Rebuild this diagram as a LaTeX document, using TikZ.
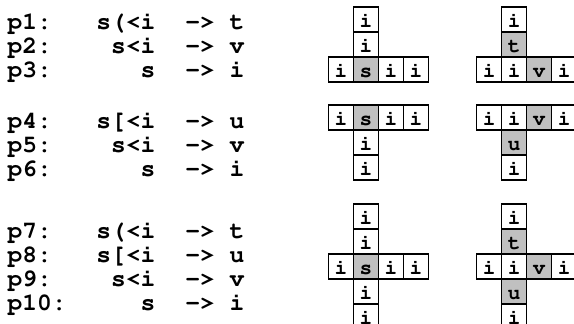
\documentclass[tikz,border=0pt]{standalone}
\usepackage[T1]{fontenc}
\definecolor{cellgray}{RGB}{192,192,192}
\begin{document}
\begin{tikzpicture}[x=1pt,y=-1pt,
  txt/.style={inner sep=0pt, font=\fontfamily{pcr}\fontseries{b}\fontsize{24.6}{24}\selectfont},
  cell/.style={draw, line width=1.2pt, minimum width=25pt, minimum height=25pt, inner sep=0pt,
    text height=16pt, text depth=0pt, font=\fontfamily{pcr}\fontseries{b}\fontsize{21}{21}\selectfont},
  hl/.style={cell, fill=cellgray}]
\useasboundingbox (0,0) rectangle (574,324);
% ---------- rules text
\def\lx{7.5}
% group 1
\node[txt, anchor=base west] (p1) at (\lx,29.5) {p1:};
\node[txt, anchor=base east] (l1) at (155.5,29.5) {s(<i};
\node[txt, anchor=base west] (a1) at (185.1,29.5) {->};
\node[txt, anchor=base west] (r1) at (229.5,29.5) {t};
\node[txt, anchor=base west] (p2) at (\lx,53.5) {p2:};
\node[txt, anchor=base east] (l2) at (155.5,53.5) {s<i};
\node[txt, anchor=base west] (a2) at (185.1,53.5) {->};
\node[txt, anchor=base west] (r2) at (229.5,53.5) {v};
\node[txt, anchor=base west] (p3) at (\lx,77.5) {p3:};
\node[txt, anchor=base east] (l3) at (155.5,77.5) {s};
\node[txt, anchor=base west] (a3) at (185.1,77.5) {->};
\node[txt, anchor=base west] (r3) at (229.5,77.5) {i};
% group 2
\node[txt, anchor=base west] (p4) at (\lx,128) {p4:};
\node[txt, anchor=base east] (l4) at (155.5,128) {s[<i};
\node[txt, anchor=base west] (a4) at (185.1,128) {->};
\node[txt, anchor=base west] (r4) at (229.5,128) {u};
\node[txt, anchor=base west] (p5) at (\lx,152) {p5:};
\node[txt, anchor=base east] (l5) at (155.5,152) {s<i};
\node[txt, anchor=base west] (a5) at (185.1,152) {->};
\node[txt, anchor=base west] (r5) at (229.5,152) {v};
\node[txt, anchor=base west] (p6) at (\lx,176) {p6:};
\node[txt, anchor=base east] (l6) at (155.5,176) {s};
\node[txt, anchor=base west] (a6) at (185.1,176) {->};
\node[txt, anchor=base west] (r6) at (229.5,176) {i};
% group 3
\node[txt, anchor=base west] (p7) at (\lx,238) {p7:};
\node[txt, anchor=base east] (l7) at (155.5,238) {s(<i};
\node[txt, anchor=base west] (a7) at (185.1,238) {->};
\node[txt, anchor=base west] (r7) at (229.5,238) {t};
\node[txt, anchor=base west] (p8) at (\lx,262) {p8:};
\node[txt, anchor=base east] (l8) at (155.5,262) {s[<i};
\node[txt, anchor=base west] (a8) at (185.1,262) {->};
\node[txt, anchor=base west] (r8) at (229.5,262) {u};
\node[txt, anchor=base west] (p9) at (\lx,286) {p9:};
\node[txt, anchor=base east] (l9) at (155.5,286) {s<i};
\node[txt, anchor=base west] (a9) at (185.1,286) {->};
\node[txt, anchor=base west] (r9) at (229.5,286) {v};
\node[txt, anchor=base west] (p10) at (\lx,310) {p10:};
\node[txt, anchor=base east] (l10) at (155.5,310) {s};
\node[txt, anchor=base west] (a10) at (185.1,310) {->};
\node[txt, anchor=base west] (r10) at (229.5,310) {i};
% ---------- grids
% left column centres: 341+25c ; right: 489.2+25c
% group 1 rows: 19.5+25r
\node[cell] (A01) at (366,19.5) {i};
\node[cell] (A11) at (366,44.5) {i};
\node[cell] (A20) at (341,69.5) {i};
\node[hl]   (A21) at (366,69.5) {s};
\node[cell] (A22) at (391,69.5) {i};
\node[cell] (A23) at (416,69.5) {i};
\node[cell] (B01) at (514.2,19.5) {i};
\node[hl]   (B11) at (514.2,44.5) {t};
\node[cell] (B20) at (489.2,69.5) {i};
\node[cell] (B21) at (514.2,69.5) {i};
\node[hl]   (B22) at (539.2,69.5) {v};
\node[cell] (B23) at (564.2,69.5) {i};
% group 2 rows: 117.5+25r
\node[cell] (C00) at (341,117.5) {i};
\node[hl]   (C01) at (366,117.5) {s};
\node[cell] (C02) at (391,117.5) {i};
\node[cell] (C03) at (416,117.5) {i};
\node[cell] (C11) at (366,142.5) {i};
\node[cell] (C21) at (366,167.5) {i};
\node[cell] (D00) at (489.2,117.5) {i};
\node[cell] (D01) at (514.2,117.5) {i};
\node[hl]   (D02) at (539.2,117.5) {v};
\node[cell] (D03) at (564.2,117.5) {i};
\node[hl]   (D11) at (514.2,142.5) {u};
\node[cell] (D21) at (514.2,167.5) {i};
% group 3 rows: 216.5+25r
\node[cell] (E01) at (366,216.5) {i};
\node[cell] (E11) at (366,241.5) {i};
\node[cell] (E20) at (341,266.5) {i};
\node[hl]   (E21) at (366,266.5) {s};
\node[cell] (E22) at (391,266.5) {i};
\node[cell] (E23) at (416,266.5) {i};
\node[cell] (E31) at (366,291.5) {i};
\node[cell] (E41) at (366,316.5) {i};
\node[cell] (F01) at (514.2,216.5) {i};
\node[hl]   (F11) at (514.2,241.5) {t};
\node[cell] (F20) at (489.2,266.5) {i};
\node[cell] (F21) at (514.2,266.5) {i};
\node[hl]   (F22) at (539.2,266.5) {v};
\node[cell] (F23) at (564.2,266.5) {i};
\node[hl]   (F31) at (514.2,291.5) {u};
\node[cell] (F41) at (514.2,316.5) {i};
\end{tikzpicture}
\end{document}
